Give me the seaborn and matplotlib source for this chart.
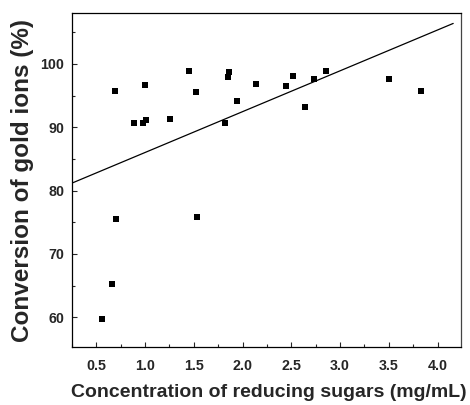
import matplotlib
matplotlib.use("Agg")
import matplotlib.pyplot as plt
from matplotlib.ticker import MultipleLocator
import seaborn as sns
import pandas as pd

# Data
sugar_conc = [0.56, 0.66, 0.69, 0.70, 0.89, 0.98, 1.01, 1.00, 1.26, 1.45, 1.52, 1.53,
              1.82, 1.85, 1.86, 1.94, 2.14, 2.45, 2.52, 2.64, 2.73, 2.86, 3.50, 3.83]
conversion = [59.7, 65.2, 95.7, 75.5, 90.7, 90.6, 91.1, 96.7, 91.3, 98.9, 95.6, 75.9,
              90.6, 98.0, 98.8, 94.2, 96.9, 96.5, 98.1, 93.2, 97.7, 98.9, 97.7, 95.7]
fit_x = [0.26, 4.16]
fit_y = [81.25, 106.4]

xticks = [0.5, 1.0, 1.5, 2.0, 2.5, 3.0, 3.5, 4.0]
yticks = [60, 70, 80, 90, 100]

sns.set_style("ticks")
plt.rcParams['font.family'] = ['Liberation Sans', 'DejaVu Sans']

df = pd.DataFrame({"x": sugar_conc, "y": conversion})
fit = pd.DataFrame({"x": fit_x, "y": fit_y})

W, H = 470, 405
fig = plt.figure(figsize=(W / 100, H / 100), dpi=100)
ax = fig.add_axes([72.0 / W, (H - 347) / H, (461 - 72.0) / W, (347 - 13.3) / H])

sns.lineplot(data=fit, x="x", y="y", ax=ax, color="black", linewidth=0.9)
sns.scatterplot(data=df, x="x", y="y", ax=ax, marker="s", color="black", s=13,
                linewidth=0, zorder=3)

ax.set_xlim(0.25, 4.24)
ax.set_ylim(55.3, 108)
ax.set_xticks(xticks)
ax.set_xticklabels([f"{v:.1f}" for v in xticks])
ax.set_yticks(yticks)
ax.set_yticklabels([str(v) for v in yticks])
ax.xaxis.set_minor_locator(MultipleLocator(0.25))
ax.yaxis.set_minor_locator(MultipleLocator(5))
ax.tick_params(axis="both", which="major", direction="in", length=3.5, width=0.8,
               labelsize=10.3)
ax.tick_params(axis="both", which="minor", direction="in", length=2, width=0.8)
ax.tick_params(axis="y", which="major", pad=5.5)
ax.tick_params(axis="x", which="major", pad=8.5)
for lab in ax.get_xticklabels() + ax.get_yticklabels():
    lab.set_fontweight("bold")
for s in ax.spines.values():
    s.set_visible(True)
    s.set_linewidth(0.9)
    s.set_color("black")
ax.spines["right"].set_color("#444444")

ax.set_xlabel("Concentration of reducing sugars (mg/mL)", fontsize=14,
              fontweight="bold")
ax.xaxis.set_label_coords(0.505, -0.112)
ax.set_ylabel("Conversion of gold ions (%)", fontsize=17.5, fontweight="bold")
ax.yaxis.set_label_coords(-0.098, 0.5)

fig.savefig("out.png", dpi=100)
